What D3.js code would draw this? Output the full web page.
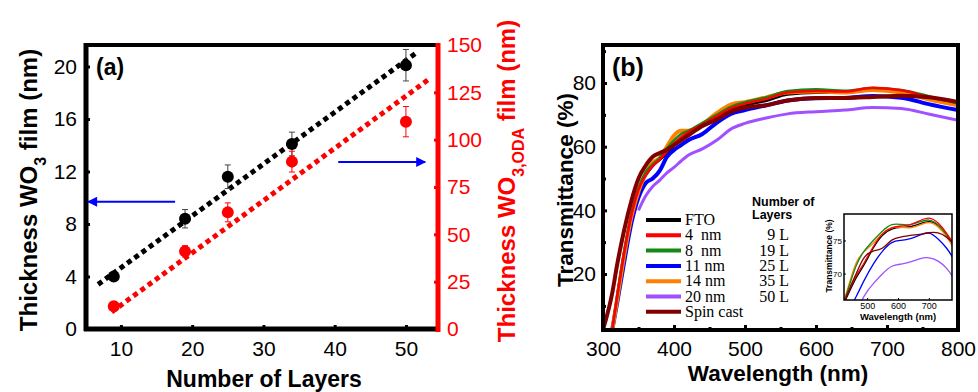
<!DOCTYPE html>
<html>
<head>
<meta charset="utf-8">
<script src="https://cdn.jsdelivr.net/npm/d3@7"></script>
<style>
  body { margin: 0; background: #fff; }
  svg { display: block; }
  text { font-family: "Liberation Sans", Arial, sans-serif; }
</style>
</head>
<body>
<svg id="chart" width="978" height="392"></svg>
<script>
// ---- panel (a) data ----
var layers = [9, 19, 25, 34, 50];
var thickWO3 = [4.0, 8.4, 11.6, 14.1, 20.1];
var thickWO3Err = [0.3, 0.7, 0.9, 0.9, 1.2];
var thickODA = [12, 41, 61.6, 88.4, 109.5];
var thickODAErr = [2, 3, 5, 5.5, 8];
var fitBlack = [[6.8, 3.4], [51.6, 21.1]];
var fitRed = [[8.7, 9], [53.1, 131.6]];
var leftTicks = [0, 4, 8, 12, 16, 20];
var rightTicks = [0, 25, 50, 75, 100, 125, 150];
var layerTicks = [10, 20, 30, 40, 50];

// ---- panel (b) data ----
var wl = [300, 313, 320, 330, 340, 350, 360, 370, 380, 390, 400, 410, 420, 440, 460, 480, 500, 530, 560, 600, 640, 680, 720, 760, 800];
var tFTO  = [null, 2.5, 13, 27, 38.5, 46.5, 51, 54, 56, 58, 60.5, 62.5, 64, 66.5, 69, 71.5, 73, 74.5, 76.5, 77, 77, 78, 77.3, 75.3, 73.5];
var t4nm  = [null, 2.5, 13, 27, 38.5, 46.5, 51, 54, 56, 58.5, 61, 63, 64.5, 67, 69.5, 72, 73.5, 75, 77, 77.5, 77.3, 78.5, 77.7, 75.5, 73.8];
var t8nm  = [null, 2.5, 13, 27, 39, 47, 52, 54.5, 56.5, 59.5, 62, 64, 65, 67.5, 70, 72.5, 74, 75.5, 77.5, 78, 77.6, 78.4, 77.8, 75.8, 73.5];
var t11nm = [null, 2.5, 11, 24, 36, 44, 48.5, 50, 52.5, 56.8, 59, 60.5, 62, 64, 67.5, 70.3, 71.5, 73, 74.5, 75.2, 75.3, 75.9, 75.4, 73.3, 71.5];
var t14nm = [null, 2.5, 12, 26, 38, 46, 51.5, 55, 56.5, 60, 63.5, 65, 65, 67, 70.5, 73.2, 74, 75.5, 77, 77.3, 77, 77.8, 77, 74.8, 73];
var t20nm = [null, null, null, null, null, 40, 44.5, 47.5, 49.5, 51.8, 53.5, 55.5, 57.3, 59.3, 62, 65.5, 67.3, 69, 70.3, 71, 71.5, 72.3, 72, 70.2, 68.3];
var tSpin = [2.5, 14, 23, 34, 43, 50, 54, 56.8, 58, 59, 60.5, 62, 63.5, 66.5, 68.5, 71, 72.3, 73, 74.5, 75.3, 75.3, 75.6, 76, 75.5, 74];

// inset (zoomed plateau)
var wlIn = [425, 445, 465, 490, 520, 550, 580, 610, 640, 670, 700, 730, 760, 780];
var iFTO  = [65.5, 67.5, 69.5, 71.2, 74, 76, 76.8, 77, 77, 77.5, 78, 77.5, 75.8, 74.3];
var i4nm  = [65.8, 67.8, 69.8, 71.5, 74.2, 76.2, 77, 77.2, 77.3, 78, 78.6, 77.8, 76, 74.5];
var i8nm  = [65.8, 68.5, 71.5, 73.5, 75, 76.5, 77.6, 77.4, 77.3, 77.8, 78.3, 77.5, 75.8, 74.3];
var i11nm = [63, 64.8, 66.5, 69, 71.5, 73.5, 74.9, 75, 75.2, 75.8, 76.4, 75.3, 73.8, 72.2];
var i14nm = [65.8, 69, 72, 73.4, 74.5, 76.2, 77.1, 77, 76.8, 77.3, 77.9, 77.2, 75.5, 73.8];
var i20nm = [58, 61, 64, 66.8, 68.5, 70, 71.3, 71.4, 71.7, 72.3, 72.5, 72, 70.8, 69.3];
var iSpin = [65.5, 68, 70, 72.8, 73.5, 73.6, 75.3, 75.5, 75.8, 75.9, 76.2, 76.3, 75.5, 74.5];

var seriesNames = ["FTO", "4  nm", "8  nm", "11 nm", "14 nm", "20 nm", "Spin cast"];
var layerLabels = ["", "9 L", "19 L", "25 L", "35 L", "50 L", ""];
var colors = ["#000000", "#ff0000", "#138a13", "#0000ff", "#ff8000", "#a050ff", "#800000"];
var widths = [3, 2.5, 2.5, 4, 4, 3, 4];
var mainVals = [tFTO, t4nm, t8nm, t11nm, t14nm, t20nm, tSpin];
var insetVals = [iFTO, i4nm, i8nm, i11nm, i14nm, i20nm, iSpin];
var drawOrder = [0, 5, 3, 4, 2, 1, 6];

var svg = d3.select("#chart");

// ================= panel (a) =================
var xA = d3.scaleLinear().domain([5.1, 54.5]).range([86, 438]);
var yL = d3.scaleLinear().domain([0, 21.64]).range([329, 45]);
var yR = d3.scaleLinear().domain([0, 150]).range([329, 45]);

var gA = svg.append("g");

gA.append("g")
    .attr("transform", "translate(86,0)")
    .call(d3.axisLeft(yL).tickValues(leftTicks).tickSize(-4).tickPadding(9))
    .call(function(g) { g.select(".domain").remove(); })
    .selectAll("text").style("font-size", "21px").attr("fill", "#000");
gA.append("g")
    .attr("transform", "translate(0,329)")
    .call(d3.axisBottom(xA).tickValues(layerTicks).tickSize(-4).tickPadding(12))
    .call(function(g) { g.select(".domain").remove(); })
    .selectAll("text").style("font-size", "21px").attr("fill", "#000");
var rAx = gA.append("g")
    .attr("transform", "translate(438,0)")
    .call(d3.axisRight(yR).tickValues(rightTicks).tickSize(-4).tickPadding(9))
    .call(function(g) { g.select(".domain").remove(); });
rAx.selectAll("text").style("font-size", "21px").attr("fill", "#ff0000");
rAx.selectAll("line").attr("stroke", "#ff0000");
gA.selectAll(".tick line").attr("stroke-width", 3);

// frame
gA.append("line").attr("x1", 86).attr("x2", 438).attr("y1", 45).attr("y2", 45)
    .attr("stroke", "#000").attr("stroke-width", 4);
gA.append("line").attr("x1", 86).attr("x2", 86).attr("y1", 43).attr("y2", 331)
    .attr("stroke", "#000").attr("stroke-width", 5);
gA.append("line").attr("x1", 84).attr("x2", 438).attr("y1", 329).attr("y2", 329)
    .attr("stroke", "#000").attr("stroke-width", 5);
gA.append("line").attr("x1", 438).attr("x2", 438).attr("y1", 43).attr("y2", 332)
    .attr("stroke", "#ff0000").attr("stroke-width", 5);

// fit lines
gA.append("line")
    .attr("x1", xA(fitBlack[0][0])).attr("y1", yL(fitBlack[0][1]))
    .attr("x2", xA(fitBlack[1][0])).attr("y2", yL(fitBlack[1][1]))
    .attr("stroke", "#000").attr("stroke-width", 5).attr("stroke-dasharray", "5,4");
gA.append("line")
    .attr("x1", xA(fitRed[0][0])).attr("y1", yR(fitRed[0][1]))
    .attr("x2", xA(fitRed[1][0])).attr("y2", yR(fitRed[1][1]))
    .attr("stroke", "#ff0000").attr("stroke-width", 5).attr("stroke-dasharray", "5,4");

// error bars + points
function drawPoints(vals, errs, y, col, barCol) {
  var g = gA.append("g");
  layers.forEach(function(l, i) {
    var x = xA(l);
    g.append("line").attr("x1", x).attr("x2", x)
      .attr("y1", y(vals[i] - errs[i])).attr("y2", y(vals[i] + errs[i]))
      .attr("stroke", barCol).attr("stroke-width", 1);
    [vals[i] - errs[i], vals[i] + errs[i]].forEach(function(v) {
      g.append("line").attr("x1", x - 3).attr("x2", x + 3)
        .attr("y1", y(v)).attr("y2", y(v))
        .attr("stroke", barCol).attr("stroke-width", 1);
    });
    g.append("circle").attr("cx", x).attr("cy", y(vals[i])).attr("r", 6).attr("fill", col);
  });
}
drawPoints(thickWO3, thickWO3Err, yL, "#000", "#444");
drawPoints(thickODA, thickODAErr, yR, "#ff0000", "#ff0000");

// blue arrows
var defs = svg.append("defs");
defs.append("marker").attr("id", "arr").attr("viewBox", "0 0 10 10")
    .attr("refX", 9).attr("refY", 5).attr("markerWidth", 6).attr("markerHeight", 5)
    .attr("markerUnits", "strokeWidth").attr("orient", "auto")
  .append("path").attr("d", "M0,0L10,5L0,10Z").attr("fill", "#0000ff");
gA.append("line").attr("x1", xA(17.6)).attr("x2", xA(5.4))
    .attr("y1", yL(9.7)).attr("y2", yL(9.7))
    .attr("stroke", "#0000ff").attr("stroke-width", 2).attr("marker-end", "url(#arr)");
gA.append("line").attr("x1", xA(40.5)).attr("x2", xA(52.7))
    .attr("y1", yR(88.2)).attr("y2", yR(88.2))
    .attr("stroke", "#0000ff").attr("stroke-width", 2).attr("marker-end", "url(#arr)");

gA.append("text").attr("x", 96).attr("y", 75).text("(a)")
    .style("font-size", "23px").style("font-weight", "bold");

// titles
var tl = gA.append("text").attr("transform", "translate(37,190) rotate(-90)")
    .attr("text-anchor", "middle").style("font-size", "24px").style("font-weight", "bold");
tl.append("tspan").text("Thickness WO");
tl.append("tspan").text("3").attr("baseline-shift", "sub").style("font-size", "16px");
tl.append("tspan").text(" film (nm)");
var tr = gA.append("text").attr("transform", "translate(515,181) rotate(-90)")
    .attr("text-anchor", "middle").attr("fill", "#ff0000")
    .style("font-size", "24px").style("font-weight", "bold");
tr.append("tspan").text("Thickness WO");
tr.append("tspan").text("3,ODA").attr("baseline-shift", "sub").style("font-size", "16px");
tr.append("tspan").text(" film (nm)");
gA.append("text").attr("x", 264).attr("y", 387).attr("text-anchor", "middle")
    .style("font-size", "23px").style("font-weight", "bold").text("Number of Layers");

// ================= panel (b) =================
var xB = d3.scaleLinear().domain([300, 800]).range([603, 958]);
var yB = d3.scaleLinear().domain([0, 80]).range([337.7, 83]);
var gB = svg.append("g");

defs.append("clipPath").attr("id", "clipB")
  .append("rect").attr("x", 603).attr("y", 45).attr("width", 355).attr("height", 285);

gB.append("g")
    .attr("transform", "translate(603,0)")
    .call(d3.axisLeft(yB).tickValues([20, 40, 60, 80]).tickSize(-4).tickPadding(7))
    .call(function(g) { g.select(".domain").remove(); })
    .selectAll("text").style("font-size", "21px").attr("fill", "#000");
gB.append("g")
    .attr("transform", "translate(603,0)")
    .call(d3.axisLeft(yB).tickValues([10, 30, 50, 70, 90]).tickSize(-3).tickFormat(""))
    .call(function(g) { g.select(".domain").remove(); });
gB.append("g")
    .attr("transform", "translate(0,330)")
    .call(d3.axisBottom(xB).tickValues([300, 400, 500, 600, 700, 800]).tickSize(-5).tickPadding(11))
    .call(function(g) { g.select(".domain").remove(); })
    .selectAll("text").style("font-size", "21px").attr("fill", "#000");
gB.append("g")
    .attr("transform", "translate(0,330)")
    .call(d3.axisBottom(xB).tickValues([350, 450, 550, 650, 750]).tickSize(-3).tickFormat(""))
    .call(function(g) { g.select(".domain").remove(); });
gB.selectAll(".tick line").attr("stroke-width", 3);

var lineB = d3.line()
    .defined(function(d) { return d[1] != null; })
    .x(function(d) { return xB(d[0]); })
    .y(function(d) { return yB(d[1]); })
    .curve(d3.curveMonotoneX);
var curvesB = gB.append("g").attr("clip-path", "url(#clipB)");
drawOrder.forEach(function(k) {
  curvesB.append("path")
    .datum(wl.map(function(w, i) { return [w, mainVals[k][i]]; }))
    .attr("d", lineB).attr("fill", "none")
    .attr("stroke", colors[k]).attr("stroke-width", widths[k]);
});

gB.append("rect").attr("x", 603).attr("y", 45).attr("width", 355).attr("height", 285)
    .attr("fill", "none").attr("stroke", "#000").attr("stroke-width", 4);

gB.append("text").attr("x", 612).attr("y", 76).text("(b)")
    .style("font-size", "25px").style("font-weight", "bold");
gB.append("text").attr("transform", "translate(573,190) rotate(-90)")
    .attr("text-anchor", "middle").style("font-size", "22.5px").style("font-weight", "bold")
    .text("Transmittance (%)");
gB.append("text").attr("x", 778).attr("y", 381).attr("text-anchor", "middle")
    .style("font-size", "22.5px").style("font-weight", "bold").text("Wavelength (nm)");

// legend
var leg = gB.append("g");
seriesNames.forEach(function(n, i) {
  var y = 220 + i * 15.3;
  leg.append("line").attr("x1", 646).attr("x2", 681).attr("y1", y).attr("y2", y)
    .attr("stroke", colors[i]).attr("stroke-width", 4);
  leg.append("text").attr("x", 685).attr("y", y + 5).text(n)
    .style("white-space", "pre")
    .style("font-family", "'Liberation Serif', 'Times New Roman', serif").style("font-size", "16px");
  if (layerLabels[i]) {
    leg.append("text").attr("x", 789).attr("y", y + 5).attr("text-anchor", "end").text(layerLabels[i])
      .style("font-family", "'Liberation Serif', 'Times New Roman', serif").style("font-size", "16px");
  }
});
leg.append("text").attr("x", 752).attr("y", 206).text("Number of")
    .style("font-size", "12.5px").style("font-weight", "bold");
leg.append("text").attr("x", 752).attr("y", 219).text("Layers")
    .style("font-size", "12.5px").style("font-weight", "bold");

// inset
var xI = d3.scaleLinear().domain([425, 775]).range([844, 952]);
var yI = d3.scaleLinear().domain([66, 79]).range([300, 214]);
defs.append("clipPath").attr("id", "clipI")
  .append("rect").attr("x", 844).attr("y", 214).attr("width", 108).attr("height", 86);
var gI = gB.append("g");
gI.append("rect").attr("x", 844).attr("y", 214).attr("width", 108).attr("height", 86).attr("fill", "#fff");
var lineI = d3.line()
    .x(function(d) { return xI(d[0]); })
    .y(function(d) { return yI(d[1]); })
    .curve(d3.curveBasis);
var curvesI = gI.append("g").attr("clip-path", "url(#clipI)");
drawOrder.forEach(function(k) {
  curvesI.append("path")
    .datum(wlIn.map(function(w, i) { return [w, insetVals[k][i]]; }))
    .attr("d", lineI).attr("fill", "none")
    .attr("stroke", colors[k]).attr("stroke-width", 1.3);
});
gI.append("rect").attr("x", 844).attr("y", 214).attr("width", 108).attr("height", 86)
    .attr("fill", "none").attr("stroke", "#000").attr("stroke-width", 1.5);
gI.append("g").attr("transform", "translate(844,0)")
    .call(d3.axisLeft(yI).tickValues([70, 75]).tickSize(-2).tickPadding(2))
    .call(function(g) { g.select(".domain").remove(); })
    .selectAll("text").style("font-size", "8px").attr("fill", "#000");
gI.append("g").attr("transform", "translate(0,300)")
    .call(d3.axisBottom(xI).tickValues([500, 600, 700]).tickSize(-2).tickPadding(3))
    .call(function(g) { g.select(".domain").remove(); })
    .selectAll("text").style("font-size", "9px").attr("fill", "#000");
gI.append("text").attr("transform", "translate(832,256) rotate(-90)")
    .attr("text-anchor", "middle").style("font-size", "8.5px").style("font-weight", "bold")
    .text("Transmittance (%)");
gI.append("text").attr("x", 898).attr("y", 320).attr("text-anchor", "middle")
    .style("font-size", "9.5px").style("font-weight", "bold").text("Wavelength (nm)");
</script>
</body>
</html>
